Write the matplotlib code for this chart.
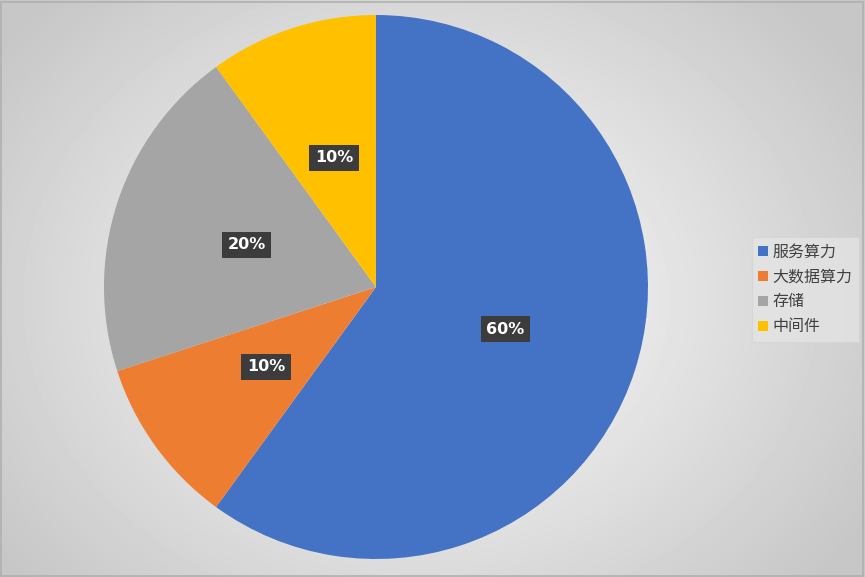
import matplotlib
matplotlib.use("Agg")
import matplotlib.pyplot as plt
import numpy as np
from matplotlib.patches import Rectangle

plt.rcParams['font.family'] = ['Noto Sans CJK SC', 'DejaVu Sans']

labels = ['服务算力', '大数据算力', '存储', '中间件']
values = [60, 10, 20, 10]
colors = ['#4472c4', '#ed7d31', '#a5a5a5', '#ffc000']

fig = plt.figure(figsize=(8.65, 5.77), dpi=100)

# radial gradient background
bg = fig.add_axes([0, 0, 1, 1])
yy, xx = np.mgrid[0:577, 0:865]
r = np.sqrt(((xx - 420) / 520.0) ** 2 + ((yy - 300) / 420.0) ** 2)
r = np.clip(r, 0, 1)
shade = 1.0 - 0.22 * r
bg.imshow(shade, cmap='gray', vmin=0, vmax=1, aspect='auto',
          extent=[0, 1, 0, 1], origin='upper')
bg.add_patch(Rectangle((0.001, 0.002), 0.997, 0.995, fill=False,
                       edgecolor='#b0b0b0', lw=1.2, transform=bg.transAxes))
bg.axis('off')

ax = fig.add_axes([0.1202, 0.0312, 0.6289, 0.9428])
wedges, texts, autotexts = ax.pie(values, colors=colors, startangle=90,
                                  counterclock=False, autopct='%d%%',
                                  pctdistance=0.5, radius=1.0,
                                  wedgeprops=dict(linewidth=0))
for t in autotexts:
    t.set_color('white')
    t.set_fontweight('bold')
    t.set_fontsize(11.5)
    t.set_fontfamily('DejaVu Sans')
    t.set_bbox(dict(boxstyle='square,pad=0.35', facecolor='#3c3c3c',
                    edgecolor='none'))
ax.set_aspect('equal')
ax.set_xlim(-1, 1)
ax.set_ylim(-1, 1)
ax.axis('off')

leg = fig.legend(wedges, labels, loc='upper left',
                 bbox_to_anchor=(752 / 865, 1 - 237 / 577),
                 frameon=True, fontsize=11.5, handlelength=0.6,
                 handleheight=0.6, handletextpad=0.3, labelspacing=0.5,
                 borderpad=0.4, fancybox=False, borderaxespad=0)
leg.get_frame().set_edgecolor('#d4d4d4')
leg.get_frame().set_facecolor('#e6e6e6')
leg.get_frame().set_alpha(0.7)
leg.get_frame().set_linewidth(0.8)
for t in leg.get_texts():
    t.set_color('#404040')

fig.savefig('out.png', dpi=100)
